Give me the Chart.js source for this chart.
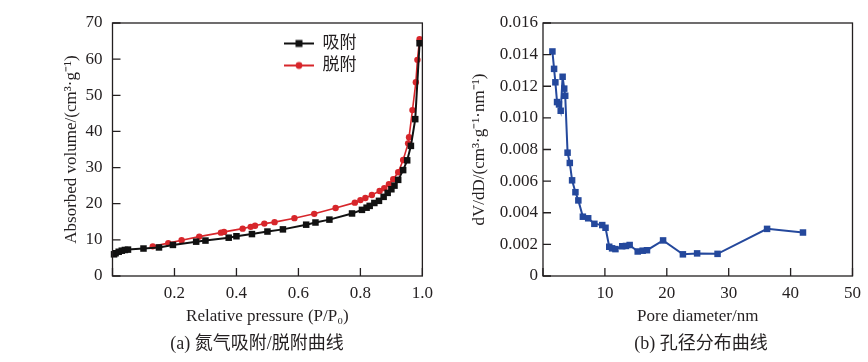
<!DOCTYPE html>
<html>
<head>
<meta charset="utf-8">
<script src="https://cdn.jsdelivr.net/npm/chart.js@4.4.1/dist/chart.umd.min.js"></script>
<style>
  html, body { margin: 0; padding: 0; background: #fff; }
  #wrap { position: relative; width: 868px; height: 362px; overflow: hidden; }
  canvas { position: absolute; top: 0; }
  #iso { left: 0; }
  #psd { left: 434px; }
  .cap {
    position: absolute; top: 328px; line-height: 20px;
    font: 18px "Liberation Serif", "Noto Sans CJK SC", serif;
    color: #231f20; white-space: nowrap; transform: translateX(-50%);
  }
</style>
</head>
<body>
<div id="wrap">
  <canvas id="iso" width="440" height="330"></canvas>
  <canvas id="psd" width="434" height="330"></canvas>
  <div class="cap" style="left:257px">(a) 氮气吸附/脱附曲线</div>
  <div class="cap" style="left:701px">(b) 孔径分布曲线</div>
</div>
<script>
// (a) nitrogen isotherm, relative pressure vs absorbed volume
const adsP = [0.005, 0.01, 0.02, 0.03, 0.04, 0.05, 0.10, 0.15, 0.195, 0.27, 0.30, 0.375, 0.40, 0.45, 0.50,
  0.55, 0.625, 0.655, 0.70, 0.773, 0.805, 0.82, 0.83, 0.845, 0.86, 0.875, 0.888, 0.90, 0.91, 0.922,
  0.938, 0.951, 0.963, 0.977, 0.991];
const adsV = [6.0, 6.3, 6.7, 7.0, 7.2, 7.3, 7.6, 7.9, 8.6, 9.5, 9.8, 10.6, 11.0, 11.6, 12.3,
  12.9, 14.2, 14.8, 15.6, 17.3, 18.3, 18.9, 19.4, 20.2, 20.8, 21.9, 23.0, 24.0, 25.0, 26.6,
  29.3, 32.0, 36.0, 43.4, 64.4];
const desP = [0.13, 0.18, 0.223, 0.28, 0.35, 0.36, 0.42, 0.446, 0.46, 0.49, 0.523, 0.587, 0.651, 0.72,
  0.782, 0.80, 0.816, 0.837, 0.862, 0.877, 0.892, 0.906, 0.922, 0.938, 0.954, 0.957, 0.968, 0.979,
  0.984, 0.991];
const desV = [8.2, 9.1, 9.9, 10.9, 12.0, 12.2, 13.1, 13.6, 13.9, 14.5, 14.9, 16.0, 17.2, 18.8,
  20.3, 21.0, 21.6, 22.4, 23.5, 24.3, 25.4, 26.8, 28.7, 32.1, 36.7, 38.4, 45.9, 53.6,
  59.8, 65.5];

// (b) pore size distribution
const poreD = [1.52, 1.79, 2.0, 2.27, 2.59, 2.86, 3.17, 3.43, 3.59, 3.97, 4.33, 4.7, 5.24, 5.71, 6.44,
  7.3, 8.3, 9.57, 10.1, 10.7, 11.16, 11.7, 12.8, 13.4, 14.0, 15.3, 16.1, 16.8, 19.4, 22.6,
  24.9, 28.2, 36.2, 42.0];
const poreDV = [0.0142, 0.0131, 0.01225, 0.0110, 0.01085, 0.01045, 0.0126, 0.01185, 0.0114, 0.0078,
  0.00715, 0.00605, 0.0053, 0.00478, 0.00375, 0.00365, 0.0033, 0.00322, 0.00305, 0.00185,
  0.00175, 0.0017, 0.00188, 0.0019, 0.00196, 0.00155, 0.0016, 0.00163, 0.00225, 0.00137,
  0.00143, 0.0014, 0.00298, 0.00275];

const seriesNames = ['吸附', '脱附'];

const ink = '#231f20';
const black = '#111111';
const red = '#d7262b';
const blue = '#24489c';
const serif = '"Liberation Serif", "Noto Sans CJK SC", serif';
const font = { family: serif, size: 17 };
const noGrid = { display: false, drawTicks: false };

const pts = (xs, ys) => xs.map((x, i) => ({ x: x, y: ys[i] }));

// box around the plot plus tick marks pointing inwards
const frame = {
  id: 'frame',
  afterDraw(chart) {
    const { ctx, chartArea: a, scales } = chart;
    ctx.save();
    ctx.strokeStyle = ink;
    ctx.lineWidth = 1.3;
    ctx.beginPath();
    scales.x.ticks.forEach((t, i) => {
      const px = scales.x.getPixelForTick(i);
      ctx.moveTo(px, a.bottom);
      ctx.lineTo(px, a.bottom - 8);
    });
    scales.y.ticks.forEach((t, i) => {
      const py = scales.y.getPixelForTick(i);
      ctx.moveTo(a.left, py);
      ctx.lineTo(a.left + 8, py);
    });
    ctx.stroke();
    ctx.strokeRect(a.left, a.top, a.right - a.left, a.bottom - a.top);
    ctx.restore();
  }
};

// small line + marker picture for the legend
function legendIcon(color, style, width) {
  const c = document.createElement('canvas');
  c.width = 30; c.height = 10;
  const g = c.getContext('2d');
  g.strokeStyle = color; g.fillStyle = color; g.lineWidth = Math.max(width, 2);
  g.beginPath(); g.moveTo(0, 5); g.lineTo(30, 5); g.stroke();
  if (style === 'rect') g.fillRect(11.5, 1.5, 7, 7);
  else { g.beginPath(); g.arc(15, 5, 3.4, 0, Math.PI * 2); g.fill(); }
  return c;
}

const placeLegend = {
  id: 'placeLegend',
  afterLayout(chart) {
    const lg = chart.legend;
    if (!lg) return;
    const w = lg.width, h = lg.height;
    lg.left = 279; lg.top = 30;
    lg.right = lg.left + w; lg.bottom = lg.top + h;
  }
};

new Chart(document.getElementById('iso'), {
  type: 'line',
  data: {
    datasets: [
      {
        label: seriesNames[0], data: pts(adsP, adsV),
        borderColor: black, backgroundColor: black, borderWidth: 2,
        pointStyle: 'rect', pointRadius: 4.6, pointBorderWidth: 0, clip: false
      },
      {
        label: seriesNames[1], data: pts(desP, desV),
        borderColor: red, backgroundColor: red, borderWidth: 1.6,
        pointStyle: 'circle', pointRadius: 3.2, pointBorderWidth: 0, clip: false
      }
    ]
  },
  options: {
    responsive: false,
    animation: false,
    layout: { padding: { left: 0, right: 14, top: 23, bottom: 0 } },
    plugins: {
      tooltip: { enabled: false },
      legend: {
        position: 'chartArea',
        align: 'start',
        labels: {
          usePointStyle: true,
          pointStyleWidth: 30,
          padding: 5,
          font: font,
          color: ink,
          generateLabels: (chart) => chart.data.datasets.map((ds, i) => ({
            text: ds.label,
            datasetIndex: i,
            fontColor: ink,
            pointStyle: legendIcon(ds.borderColor, ds.pointStyle, ds.borderWidth),
            fillStyle: ds.borderColor,
            strokeStyle: ds.borderColor,
            lineWidth: 0,
            hidden: false
          }))
        }
      }
    },
    scales: {
      x: {
        type: 'linear', min: 0, max: 1,
        grid: noGrid,
        border: { display: false },
        ticks: {
          stepSize: 0.2, padding: 7, color: ink, font: font,
          callback: (v) => (v === 0 ? '' : v.toFixed(1))
        },
        title: { display: true, text: 'Relative pressure (P/P₀)', color: ink, font: font, padding: { top: 0, bottom: 3 } },
        afterFit: (s) => { s.height = 54; }
      },
      y: {
        min: 0, max: 70,
        grid: noGrid,
        border: { display: false },
        ticks: { stepSize: 10, padding: 10, color: ink, font: font },
        title: { display: true, text: 'Absorbed volume/(cm³·g⁻¹)', color: ink, font: font, padding: { top: 61, bottom: 0 } },
        afterFit: (s) => { s.width = 112.5; }
      }
    }
  },
  plugins: [frame, placeLegend]
});

new Chart(document.getElementById('psd'), {
  type: 'line',
  data: {
    datasets: [{
      label: 'dV/dD', data: pts(poreD, poreDV),
      borderColor: blue, backgroundColor: blue, borderWidth: 2,
      pointStyle: 'rect', pointRadius: 4.6, pointBorderWidth: 0, clip: false
    }]
  },
  options: {
    responsive: false,
    animation: false,
    layout: { padding: { left: 0, right: 11, top: 23, bottom: 0 } },
    plugins: { legend: { display: false }, tooltip: { enabled: false } },
    scales: {
      x: {
        type: 'linear', min: 0, max: 50,
        grid: noGrid,
        border: { display: false },
        ticks: {
          stepSize: 10, padding: 7, color: ink, font: font,
          callback: (v) => (v === 0 ? '' : String(v))
        },
        title: { display: true, text: 'Pore diameter/nm', color: ink, font: font, padding: { top: 0, bottom: 3 } },
        afterFit: (s) => { s.height = 54; }
      },
      y: {
        min: 0, max: 0.016,
        grid: noGrid,
        border: { display: false },
        ticks: {
          stepSize: 0.002, padding: 5, color: ink, font: font,
          callback: (v) => (v === 0 ? '0' : v.toFixed(3))
        },
        title: { display: true, text: 'dV/dD/(cm³·g⁻¹·nm⁻¹)', color: ink, font: font, padding: { top: 35, bottom: 0 } },
        afterFit: (s) => { s.width = 109; }
      }
    }
  },
  plugins: [frame]
});
</script>
</body>
</html>
